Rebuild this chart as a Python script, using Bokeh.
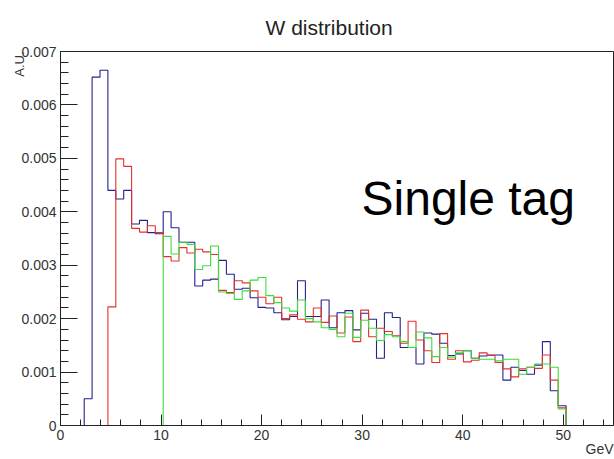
import numpy as np
from bokeh.plotting import figure
from bokeh.models import Range1d, SingleIntervalTicker, CustomJSTickFormatter, Label, Title
from bokeh.embed import file_html
from bokeh.resources import INLINE

# ---- data (values in units of 1e-3, A.U.) ----
n_bins = 70
x_min, x_max = 0.0, 55.0

blue_e3 = [0, 0, 0, 0.50, 6.52, 6.65, 4.40, 4.24, 4.40, 3.77,
           3.84, 3.61, 3.59, 4.00, 3.70, 3.43, 3.43, 2.61, 2.72, 2.74,
           3.09, 2.83, 2.55, 2.57, 2.39, 2.21, 2.20, 2.11, 1.98, 2.04,
           2.71, 2.04, 2.04, 2.35, 1.83, 2.11, 2.15, 1.79, 2.10, 1.99,
           1.26, 2.11, 2.02, 1.46, 1.46, 1.15, 1.73, 1.71, 1.54, 1.31,
           1.34, 1.40, 1.26, 1.30, 1.32, 1.32, 0.85, 1.09, 1.03, 0.96,
           1.13, 1.57, 0.65, 0.37, 0, 0, 0, 0, 0, 0]

red_e3 = [0, 0, 0, 0, 0, 0, 2.22, 4.99, 4.85, 3.69,
          3.62, 3.74, 3.61, 3.16, 3.08, 3.33, 3.23, 3.30, 3.25, 3.20,
          2.53, 2.49, 2.71, 2.67, 2.52, 2.40, 2.28, 2.40, 2.00, 2.07,
          1.99, 1.94, 2.20, 1.93, 2.05, 1.73, 2.03, 1.57, 2.16, 1.66,
          1.82, 1.76, 1.68, 1.54, 1.95, 1.60, 1.40, 1.18, 1.72, 1.24,
          1.40, 1.19, 1.22, 1.36, 1.31, 1.18, 1.06, 0.91, 1.06, 1.09,
          1.07, 1.32, 0.85, 0.33, 0, 0, 0, 0, 0, 0]

green_e3 = [0, 0, 0, 0, 0, 0, 0, 0, 0, 0,
            0, 0, 0, 3.54, 3.21, 3.43, 3.39, 2.92, 2.99, 3.36,
            2.50, 2.47, 2.36, 2.52, 2.72, 2.77, 2.43, 2.30, 2.20, 2.14,
            2.35, 2.00, 1.94, 1.83, 1.80, 1.66, 2.10, 1.65, 1.97, 1.82,
            1.59, 1.70, 1.66, 1.57, 1.46, 1.75, 1.64, 1.29, 1.46, 1.28,
            1.36, 1.40, 1.26, 1.24, 1.24, 1.21, 1.24, 1.24, 0.96, 1.09,
            1.15, 1.15, 1.09, 0.31, 0, 0, 0, 0, 0, 0]

title_text = "W distribution"
y_title = "A.U."
x_title = "GeV"
note_text = "Single tag"

# ---- figure ----
W, H = 614, 459
font = "Liberation Sans"
tcol = "#333333"

p = figure(width=W, height=H, output_backend="svg", toolbar_location=None,
           x_range=Range1d(x_min, x_max), y_range=Range1d(0, 0.007),
           min_border_left=60, min_border_right=1, min_border_top=50,
           min_border_bottom=34)
p.background_fill_color = "white"
p.border_fill_color = "white"
p.outline_line_color = "#222222"
p.outline_line_width = 1
p.grid.visible = False

p.title.text = title_text
p.title.align = "left"
p.title.vertical_align = "bottom"
p.title.text_font = font
p.title.text_font_size = "21px"
p.title.text_font_style = "normal"
p.title.text_color = "#222222"
p.title.standoff = 26
p.title.offset = 205

p.add_layout(Title(text=y_title, align="right", text_font=font, text_font_size="13px",
                   text_font_style="normal", text_color=tcol, standoff=-17), "left")
p.add_layout(Title(text=x_title, align="right", text_font=font, text_font_size="14px",
                   text_font_style="normal", text_color=tcol, standoff=-8), "below")

xa = p.xaxis[0]
xa.ticker = SingleIntervalTicker(interval=10, num_minor_ticks=5)
xa.major_tick_in = 11
xa.major_tick_out = 0
xa.minor_tick_in = 6
xa.minor_tick_out = 0
xa.major_label_standoff = 4
xa.major_label_text_font = font
xa.major_label_text_font_size = "14px"
xa.major_label_text_color = tcol
xa.axis_line_color = "#222222"
xa.major_tick_line_color = "#222222"
xa.minor_tick_line_color = "#222222"

ya = p.yaxis[0]
ya.ticker = SingleIntervalTicker(interval=0.001, num_minor_ticks=5)
ya.formatter = CustomJSTickFormatter(code="return Math.abs(tick) < 1e-9 ? '0' : tick.toFixed(3);")
ya.major_tick_in = 17
ya.major_tick_out = 0
ya.minor_tick_in = 8
ya.minor_tick_out = 0
ya.major_label_standoff = 4
ya.major_label_text_font = font
ya.major_label_text_font_size = "14px"
ya.major_label_text_color = tcol
ya.axis_line_color = "#222222"
ya.major_tick_line_color = "#222222"
ya.minor_tick_line_color = "#222222"

# ---- histograms ----
edges = np.linspace(x_min, x_max, n_bins + 1)
xs = np.repeat(edges, 2)

def outline(vals_e3):
    v = np.asarray(vals_e3, dtype=float) * 1e-3
    return np.concatenate([[0.0], np.repeat(v, 2), [0.0]])

p.line(xs, outline(blue_e3), line_color="#22228f", line_width=1.1)
p.line(xs, outline(red_e3), line_color="#e3302c", line_width=1.1)
p.line(xs, outline(green_e3), line_color="#3fdc3f", line_width=1.1)

# ---- in-frame note ----
px_x = (x_max - x_min) / 553.0
px_y = 0.007 / 375.0
p.add_layout(Label(x=x_min + (361 - 60) * px_x, y=(425 - 197) * px_y, text=note_text,
                   text_align="left", text_baseline="alphabetic",
                   text_font=font, text_font_size="48px", text_color="black"))

open("out.html", "w").write(file_html(p, INLINE))
